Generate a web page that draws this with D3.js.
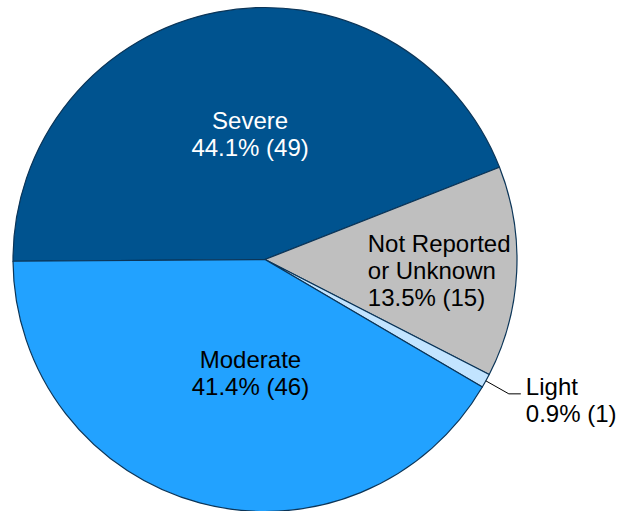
<!DOCTYPE html>
<html>
<head>
<meta charset="utf-8">
<script src="https://cdn.jsdelivr.net/npm/d3@7"></script>
<style>
  body { margin: 0; background: #fff; }
  svg { display: block; }
</style>
</head>
<body>
<div id="mypie"></div>
<script>
// Data.
const categories = ["Severe", "Not Reported or Unknown", "Light", "Moderate"];
const counts = [49, 15, 1, 46];
const percents = ["44.1%", "13.5%", "0.9%", "41.4%"];
const labelLines = [["Severe"], ["Not Reported", "or Unknown"], ["Light"], ["Moderate"]];
const colors = ["#00538F", "#BFBFBF", "#C2E4FF", "#22A2FF"];

const pie_width = 618;
const pie_height = 511;
const cx = 265, cy = 259.5, radius = 252;

const pie_svg = d3.select("#mypie")
  .append("svg")
  .attr("width", pie_width)
  .attr("height", pie_height);

const g = pie_svg.append("g")
  .attr("transform", "translate(" + cx + "," + cy + ")");

const data = categories.map((c, i) => ({ name: c, count: counts[i], pct: percents[i], lines: labelLines[i], color: colors[i] }));

// Start at 9 o'clock, go clockwise, keep the data order.
const pie = d3.pie()
  .value(d => d.count)
  .sort(null)
  .startAngle(-Math.PI / 2 - 0.007)
  .endAngle(1.5 * Math.PI - 0.007);

const arc = d3.arc().innerRadius(0).outerRadius(radius);
const arcs = pie(data);

g.selectAll(".slice")
  .data(arcs)
  .enter()
  .append("path")
  .attr("class", "slice")
  .attr("d", arc)
  .style("fill", d => d.data.color)
  .style("stroke", "#0B3558")
  .style("stroke-width", 1.2)
  .style("stroke-linejoin", "round");

// Label placement per slice: radius along the mid angle, then a nudge.
const labelSpec = {
  "Severe": { r: 126, dx: 9, dy: -2, anchor: "middle", color: "#fff" },
  "Not Reported or Unknown": { r: 175, dx: -72, dy: 2, anchor: "start", color: "#000" },
  "Light": { r: 0, dx: 0, dy: 0, anchor: "start", color: "#000" },
  "Moderate": { r: 118, dx: 16, dy: 0, anchor: "middle", color: "#000" }
};
const lineH = 27;
const fontSize = 24;
const capH = 17;

arcs.forEach(a => {
  const spec = labelSpec[a.data.name];
  const mid = (a.startAngle + a.endAngle) / 2;
  const lines = a.data.lines.concat([a.data.pct + " (" + a.data.count + ")"]);
  let x, y;
  if (a.data.name === "Light") {
    // leader line from the slice edge out to the label
    const p0 = [Math.sin(mid) * radius, -Math.cos(mid) * radius];
    const p1 = [p0[0] + 23, p0[1] + 13];
    const p2 = [p1[0] + 12, p1[1]];
    g.append("polyline")
      .attr("points", [p0, p1, p2].map(p => p.join(",")).join(" "))
      .style("fill", "none")
      .style("stroke", "#000")
      .style("stroke-width", 1);
    x = p2[0] + 5;
    y = p2[1] + 1;
  } else {
    x = Math.sin(mid) * spec.r + spec.dx;
    y = -Math.cos(mid) * spec.r + spec.dy - (lines.length - 1) * lineH / 2 + capH / 2;
  }
  const t = g.append("text")
    .attr("text-anchor", spec.anchor)
    .attr("transform", "translate(" + x + "," + y + ")")
    .style("font-family", "'Liberation Sans', Arial, sans-serif")
    .style("font-size", fontSize + "px")
    .style("fill", spec.color);
  lines.forEach((l, i) => {
    t.append("tspan").attr("x", 0).attr("y", i * lineH).text(l);
  });
});
</script>
</body>
</html>
